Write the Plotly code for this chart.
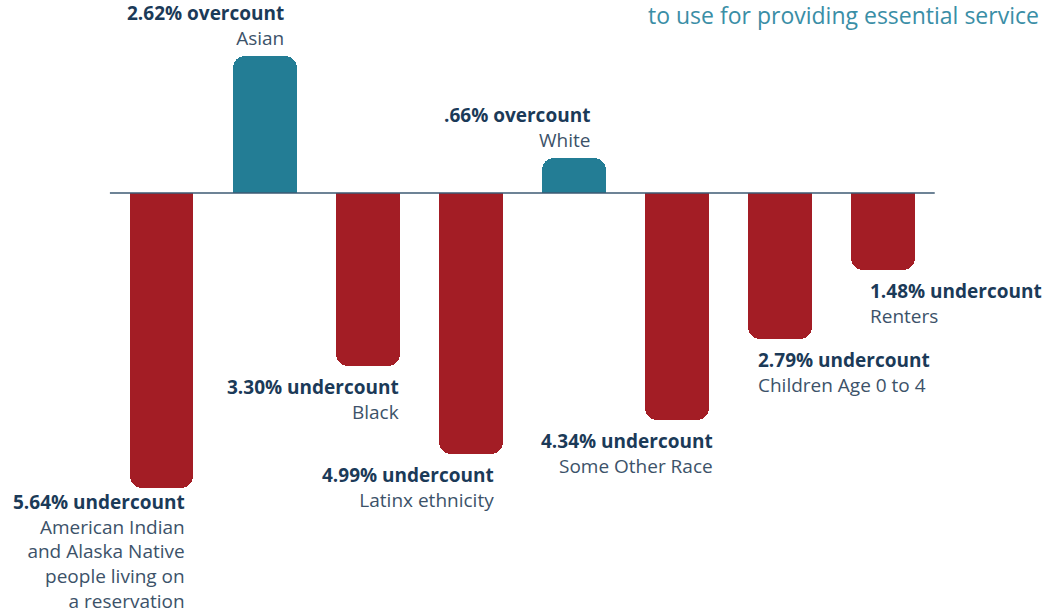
import plotly.graph_objects as go

categories = ["American Indian<br>and Alaska Native<br>people living on<br>a reservation",
              "Asian", "Black", "Latinx ethnicity", "White",
              "Some Other Race", "Children Age 0 to 4", "Renters"]
values = [-5.64, 2.62, -3.30, -4.99, 0.66, -4.34, -2.79, -1.48]
value_labels = ["5.64% undercount", "2.62% overcount", "3.30% undercount",
                "4.99% undercount", ".66% overcount", "4.34% undercount",
                "2.79% undercount", "1.48% undercount"]

# layout: label alignment and pixel offsets from bar end
label_side = ["right", "right", "right", "right", "right", "right", "left", "left"]
label_dx = [25, 20, 32, 24, 17, 37, -23, -14]
label_dy = [0, 4, -7, -7, 4, -7, -7, -7]

TEAL = "#237d95"
RED = "#a31d25"
NAVY = "#1b3a58"
GREY = "#3c5269"
FONT = "Open Sans"
SIZE = 19

xs = list(range(len(values)))
colors = [TEAL if v > 0 else RED for v in values]

fig = go.Figure()
fig.add_trace(go.Bar(
    x=xs, y=values, width=0.62,
    marker=dict(color=colors, line=dict(width=0), cornerradius=12),
    hoverinfo="skip",
))

for i, (cat, v, lab, side, dx, dy) in enumerate(
        zip(categories, values, value_labels, label_side, label_dx, label_dy)):
    text = f"<span style='color:{NAVY}'><b>{lab}</b></span><br>{cat}"
    xanchor = "right" if side == "right" else "left"
    yanchor = "bottom" if v > 0 else "top"
    fig.add_annotation(
        x=i, y=v, text=text, showarrow=False,
        xanchor=xanchor, yanchor=yanchor, xshift=dx, yshift=dy,
        align=side, borderpad=0,
        font=dict(family=FONT, size=SIZE, color=GREY),
    )

fig.add_shape(type="line", x0=-0.5, x1=7.5, y0=0, y1=0,
              line=dict(color="#3d5a73", width=1.5), layer="above")

fig.add_annotation(
    text="to use for providing essential service", xref="paper", yref="paper",
    x=0.991, y=1.0, xanchor="right", yanchor="top", yshift=3, showarrow=False,
    font=dict(family=FONT, size=23, color="#3a8ea6"),
)

fig.update_layout(
    width=1050, height=613,
    margin=dict(l=0, r=0, t=0, b=0),
    paper_bgcolor="white", plot_bgcolor="white",
    showlegend=False,
    xaxis=dict(range=[-1.566, 8.618], visible=False, fixedrange=True),
    yaxis=dict(range=[-8.03, 3.69], visible=False, fixedrange=True),
    bargap=0,
)

fig.write_html("out.html")
